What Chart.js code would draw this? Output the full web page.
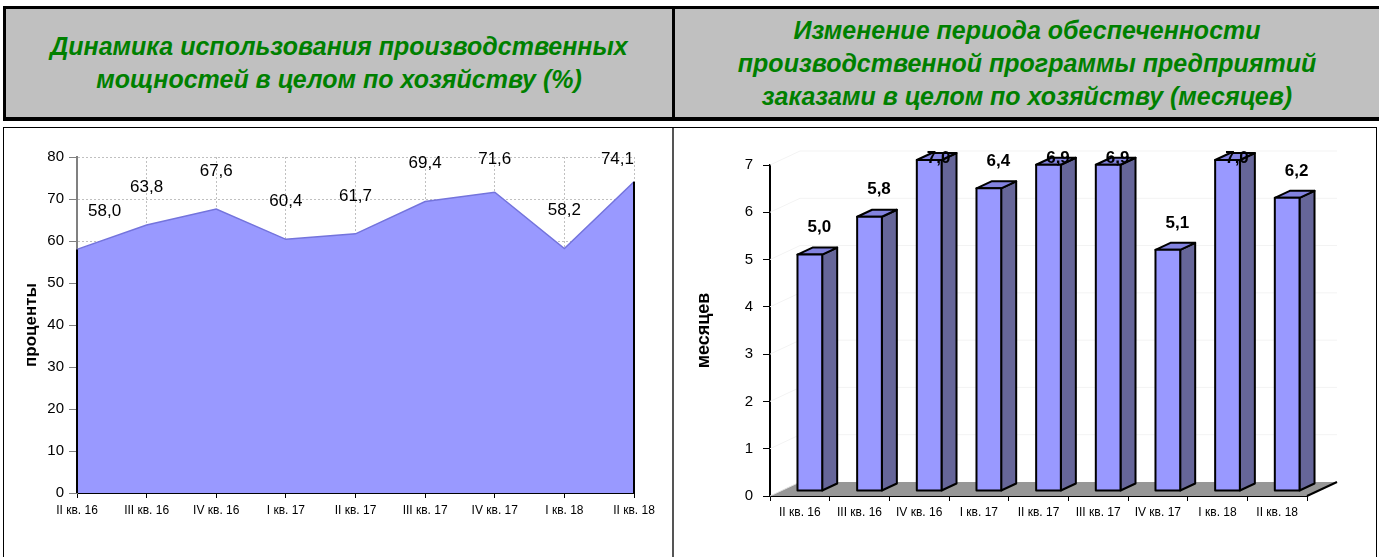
<!DOCTYPE html>
<html>
<head>
<meta charset="utf-8">
<script src="https://cdn.jsdelivr.net/npm/chart.js@4/dist/chart.umd.min.js"></script>
<style>
  body { margin: 0; background: #fff; width: 1379px; height: 557px; overflow: hidden; position: relative; }
  .head { position: absolute; left: 3px; top: 6px; width: 1376px; height: 115px; box-sizing: border-box;
          border-top: 3px solid #000; border-bottom: 4px solid #000; border-left: 3px solid #000; background: #c0c0c0; }
  .cell { position: absolute; top: 0; height: 108px; display: flex; align-items: center; justify-content: center;
          text-align: center; color: #008000; font: italic bold 25px 'Liberation Sans', Arial, sans-serif; line-height: 33px; }
  .divider { position: absolute; left: 666px; top: 0; width: 3px; height: 108px; background: #000; }
  .panels { position: absolute; left: 3px; top: 127px; width: 1374px; height: 440px; box-sizing: border-box; border: 1px solid #000; }
  .vline { position: absolute; left: 668px; top: 0; width: 2px; height: 440px; background: #555; }
  canvas { position: absolute; }
</style>
</head>
<body>
<div class="head">
  <div class="cell" style="left:0;width:666px">Динамика использования производственных<br>мощностей в целом по хозяйству (%)</div>
  <div class="divider"></div>
  <div class="cell" style="left:669px;width:704px">Изменение периода обеспеченности<br>производственной программы предприятий<br>заказами в целом по хозяйству (месяцев)</div>
</div>
<div class="panels"><div class="vline"></div></div>
<canvas id="left" width="668" height="429" style="left:4px;top:128px"></canvas>
<canvas id="right" width="703" height="429" style="left:673px;top:128px"></canvas>
<script>
const quarters = ['II кв. 16', 'III кв. 16', 'IV кв. 16', 'I кв. 17', 'II кв. 17', 'III кв. 17', 'IV кв. 17', 'I кв. 18', 'II кв. 18'];
const capacityUse = [58.0, 63.8, 67.6, 60.4, 61.7, 69.4, 71.6, 58.2, 74.1];
const orderMonths = [5.0, 5.8, 7.0, 6.4, 6.9, 6.9, 5.1, 7.0, 6.2];
const capacityAxis = [0, 80, 10];   // min, max, step
const monthsAxis = [0, 7, 1];

Chart.defaults.font.family = "'Liberation Sans', Arial, sans-serif";
Chart.defaults.color = '#000';

function fmt(v) { return v.toFixed(1).replace('.', ','); }

// left chart: area with black side edges and value labels
const areaExtras = {
  id: 'areaExtras',
  afterDatasetsDraw(chart) {
    const ctx = chart.ctx;
    const pts = chart.getDatasetMeta(0).data;
    const y0 = chart.scales.y.getPixelForValue(0);
    const area = chart.chartArea;
    ctx.save();
    ctx.strokeStyle = '#000';
    ctx.lineWidth = 2;
    [pts[0], pts[pts.length - 1]].forEach(p => {
      ctx.beginPath();
      ctx.moveTo(p.x, y0);
      ctx.lineTo(p.x, p.y);
      ctx.stroke();
    });
    ctx.font = "17px 'Liberation Sans', Arial, sans-serif";
    ctx.fillStyle = '#000';
    ctx.textAlign = 'center';
    ctx.textBaseline = 'middle';
    pts.forEach((p, i) => {
      const txt = fmt(capacityUse[i]);
      const w = ctx.measureText(txt).width;
      const x = Math.min(Math.max(p.x, area.left + 11 + w / 2), area.right - w / 2);
      const y = Math.max(p.y - 38, area.top + 2);
      ctx.fillText(txt, x, y);
    });
    ctx.restore();
  }
};

new Chart(document.getElementById('left'), {
  type: 'line',
  data: {
    labels: quarters,
    datasets: [{
      data: capacityUse,
      fill: 'origin',
      backgroundColor: '#9999ff',
      borderColor: '#7474dc',
      borderWidth: 1.5,
      pointRadius: 0,
      tension: 0
    }]
  },
  options: {
    responsive: false,
    animation: false,
    events: [],
    layout: { padding: { top: 29, right: 38, left: 0, bottom: 0 } },
    plugins: { legend: { display: false }, tooltip: { enabled: false } },
    scales: {
      x: {
        offset: false,
        afterFit(s) { s.height = 64; },
        grid: { color: '#c0c0c0', tickColor: '#000', tickLength: 5 },
        border: { color: '#000', width: 2, dash: [2, 2] },
        ticks: { padding: 5, maxRotation: 0, autoSkip: false, font: { size: 12 } }
      },
      y: {
        min: capacityAxis[0],
        max: capacityAxis[1],
        afterFit(s) { s.width = 73; },
        grid: { color: '#c0c0c0', tickColor: '#808080', tickLength: 8 },
        border: { color: '#808080', width: 2, dash: [2, 2] },
        ticks: { stepSize: capacityAxis[2], padding: 5, font: { size: 15 } },
        title: { display: true, text: 'проценты', font: { size: 17, weight: 'bold' }, padding: { top: 17, bottom: 0 } }
      }
    }
  },
  plugins: [areaExtras]
});

// right chart: 3D-looking bars on a grey floor
const DX = 15, DY = 7;          // bar depth
const FX = 30, FY = 14;         // floor depth
const SX = 10, SY = -5;         // shift of bars onto the floor

const bars3d = {
  id: 'bars3d',
  beforeDatasetsDraw(chart) {
    const ctx = chart.ctx;
    const a = chart.chartArea;
    const ys = chart.scales.y;
    ctx.save();
    // faint wall grid
    ctx.strokeStyle = '#f3f3f3';
    ctx.lineWidth = 1;
    for (let v = monthsAxis[0] + monthsAxis[2]; v <= monthsAxis[1]; v += monthsAxis[2]) {
      const y = ys.getPixelForValue(v);
      ctx.beginPath();
      ctx.moveTo(a.left, y);
      ctx.lineTo(a.left + FX, y - FY);
      ctx.lineTo(a.right + FX, y - FY);
      ctx.stroke();
    }
    // floor
    const b = a.bottom;
    ctx.beginPath();
    ctx.moveTo(a.left, b);
    ctx.lineTo(a.right, b);
    ctx.lineTo(a.right + FX, b - FY);
    ctx.lineTo(a.left + FX, b - FY);
    ctx.closePath();
    ctx.fillStyle = '#979797';
    ctx.fill();
    ctx.strokeStyle = '#000';
    ctx.lineWidth = 2;
    ctx.beginPath();
    ctx.moveTo(a.right, b);
    ctx.lineTo(a.right + FX, b - FY);
    ctx.stroke();
    ctx.strokeStyle = '#e0e0e0';
    ctx.lineWidth = 1;
    ctx.beginPath();
    ctx.moveTo(a.left, b);
    ctx.lineTo(a.left + FX, b - FY);
    ctx.stroke();
    ctx.restore();
  },
  afterDatasetsDraw(chart) {
    const ctx = chart.ctx;
    const a = chart.chartArea;
    ctx.save();
    ctx.lineWidth = 2;
    ctx.strokeStyle = '#000';
    ctx.lineJoin = 'round';
    chart.getDatasetMeta(0).data.forEach((bar, i) => {
      const l = bar.x - bar.width / 2 + SX, r = bar.x + bar.width / 2 + SX;
      const t = bar.y + SY, btm = bar.base + SY;
      // side
      ctx.beginPath();
      ctx.moveTo(r, btm); ctx.lineTo(r + DX, btm - DY); ctx.lineTo(r + DX, t - DY); ctx.lineTo(r, t); ctx.closePath();
      ctx.fillStyle = '#666699'; ctx.fill(); ctx.stroke();
      // top
      ctx.beginPath();
      ctx.moveTo(l, t); ctx.lineTo(r, t); ctx.lineTo(r + DX, t - DY); ctx.lineTo(l + DX, t - DY); ctx.closePath();
      ctx.fillStyle = '#8383e0'; ctx.fill(); ctx.stroke();
      // front
      ctx.beginPath();
      ctx.rect(l, t, r - l, btm - t);
      ctx.fillStyle = '#9999ff'; ctx.fill(); ctx.stroke();
    });
    ctx.font = "bold 17px 'Liberation Sans', Arial, sans-serif";
    ctx.fillStyle = '#000';
    ctx.textAlign = 'center';
    ctx.textBaseline = 'middle';
    chart.getDatasetMeta(0).data.forEach((bar, i) => {
      const x = bar.x + SX + DX / 2 + 2;
      const y = Math.max(bar.y + SY - 27, a.top - 7);
      ctx.fillText(fmt(orderMonths[i]), x, y);
    });
    ctx.restore();
  }
};

new Chart(document.getElementById('right'), {
  type: 'bar',
  data: {
    labels: quarters,
    datasets: [{
      data: orderMonths,
      backgroundColor: 'rgba(0,0,0,0)',
      borderWidth: 0,
      barPercentage: 0.9,
      categoryPercentage: 0.46
    }]
  },
  options: {
    responsive: false,
    animation: false,
    events: [],
    layout: { padding: { top: 37, right: 69, left: 0, bottom: 0 } },
    plugins: { legend: { display: false }, tooltip: { enabled: false } },
    scales: {
      x: {
        afterFit(s) { s.height = 61; },
        grid: { drawOnChartArea: false, color: '#000', tickLength: 5 },
        border: { color: '#000', width: 2 },
        ticks: { padding: 4, maxRotation: 0, autoSkip: false, font: { size: 12 } }
      },
      y: {
        min: monthsAxis[0],
        max: monthsAxis[1],
        afterFit(s) { s.width = 97; },
        grid: { drawOnChartArea: false, color: '#000', tickLength: 7 },
        border: { color: '#000', width: 2 },
        ticks: { stepSize: monthsAxis[2], padding: 10, font: { size: 15 } },
        title: { display: true, text: 'месяцев', font: { size: 18, weight: 'bold' }, padding: { top: 20, bottom: 0 } }
      }
    }
  },
  plugins: [bars3d]
});
</script>
</body>
</html>
